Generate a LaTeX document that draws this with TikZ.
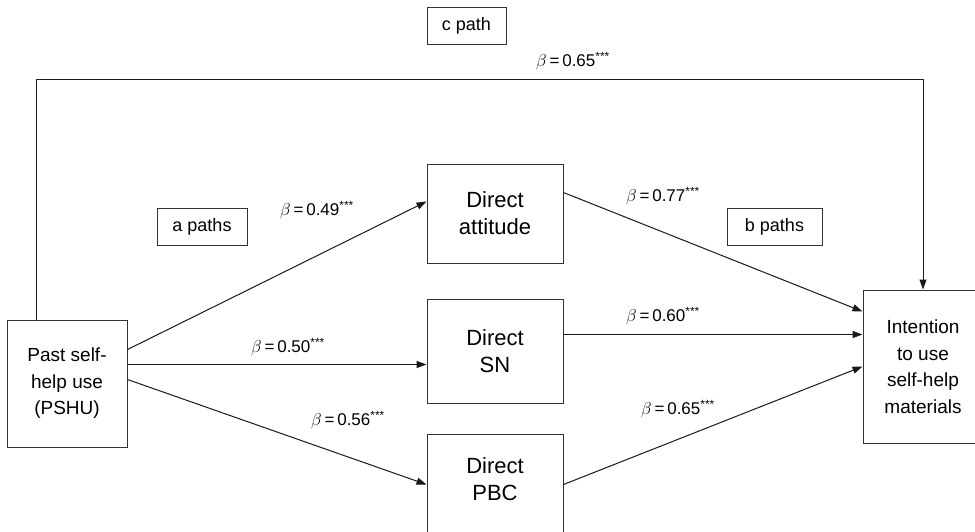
\documentclass[tikz,border=0pt]{standalone}
\usepackage{fontspec}
\setmainfont{Liberation Sans}
\usetikzlibrary{arrows.meta,calc}
\begin{document}
\begin{tikzpicture}[x=1pt,y=-1pt,
  box/.style={draw=black!80, line width=1pt, inner sep=0pt, align=center},
  bigbox/.style={box, minimum width=136, font=\fontsize{22}{27}\selectfont},
  sidebox/.style={box, minimum width=120, font=\fontsize{19}{26.5}\selectfont},
  tagbox/.style={box, minimum height=37, font=\fontsize{18}{20}\selectfont},
  coef/.style={inner sep=0pt, font=\fontsize{17}{20}\selectfont},
  link/.style={draw=black!90, line width=1pt, -{Triangle[length=10pt,width=7pt]}}]
\useasboundingbox (0,0) rectangle (975,531);
\clip (0,0) rectangle (975,531);
\fill[white] (0,0) rectangle (975,531);
% main boxes
\node[sidebox, minimum height=127] (pshu) at (67,383.5) {Past self-\\help use\\(PSHU)};
\node[sidebox, minimum height=153] (int) at (923,366.5) {Intention\\to use\\self-help\\materials};
\node[bigbox, minimum height=99] (att) at (495,213.5) {Direct\\attitude};
\node[bigbox, minimum height=104] (sn) at (495,351) {Direct\\SN};
\node[bigbox, minimum height=120] (pbc) at (495,494) {};
\node[align=center, inner sep=0pt, font=\fontsize{22}{27}\selectfont] (pbctext) at (495,479) {Direct\\PBC};
% path tags
\node[tagbox, minimum width=79] (ctag) at (466.5,25.5) {c path};
\node[tagbox, minimum width=90] (atag) at (202,226.5) {a paths};
\node[tagbox, minimum width=95] (btag) at (774.5,226.5) {b paths};
% connectors
\draw[link] ($(pshu.north west)+(30,0)$) -- ++(0,-240) -| (int.north);
\draw[link] ($(pshu.north east)+(0,30)$) -- ($(att.north west)+(0,38)$);
\draw[link] ($(pshu.north east)+(0,45)$) -- ($(sn.north west)+(0,66)$);
\draw[link] ($(pshu.north east)+(0,60)$) -- ($(pbc.north west)+(0,51)$);
\draw[link] ($(att.north east)+(0,29)$) -- ($(int.north west)+(0,22)$);
\draw[link] ($(sn.north east)+(0,36)$) -- ($(int.north west)+(0,45)$);
\draw[link] ($(pbc.north east)+(0,51)$) -- ($(int.north west)+(0,77)$);
% coefficients
\node[coef] (cc) at (573,61) {$\beta$\,=\,0.65\textsuperscript{***}};
\node[coef] (a1) at (317,210) {$\beta$\,=\,0.49\textsuperscript{***}};
\node[coef] (a2) at (288,347) {$\beta$\,=\,0.50\textsuperscript{***}};
\node[coef] (a3) at (348,420) {$\beta$\,=\,0.56\textsuperscript{***}};
\node[coef] (b1) at (663,196) {$\beta$\,=\,0.77\textsuperscript{***}};
\node[coef] (b2) at (663,316) {$\beta$\,=\,0.60\textsuperscript{***}};
\node[coef] (b3) at (678,409) {$\beta$\,=\,0.65\textsuperscript{***}};
\end{tikzpicture}
\end{document}
